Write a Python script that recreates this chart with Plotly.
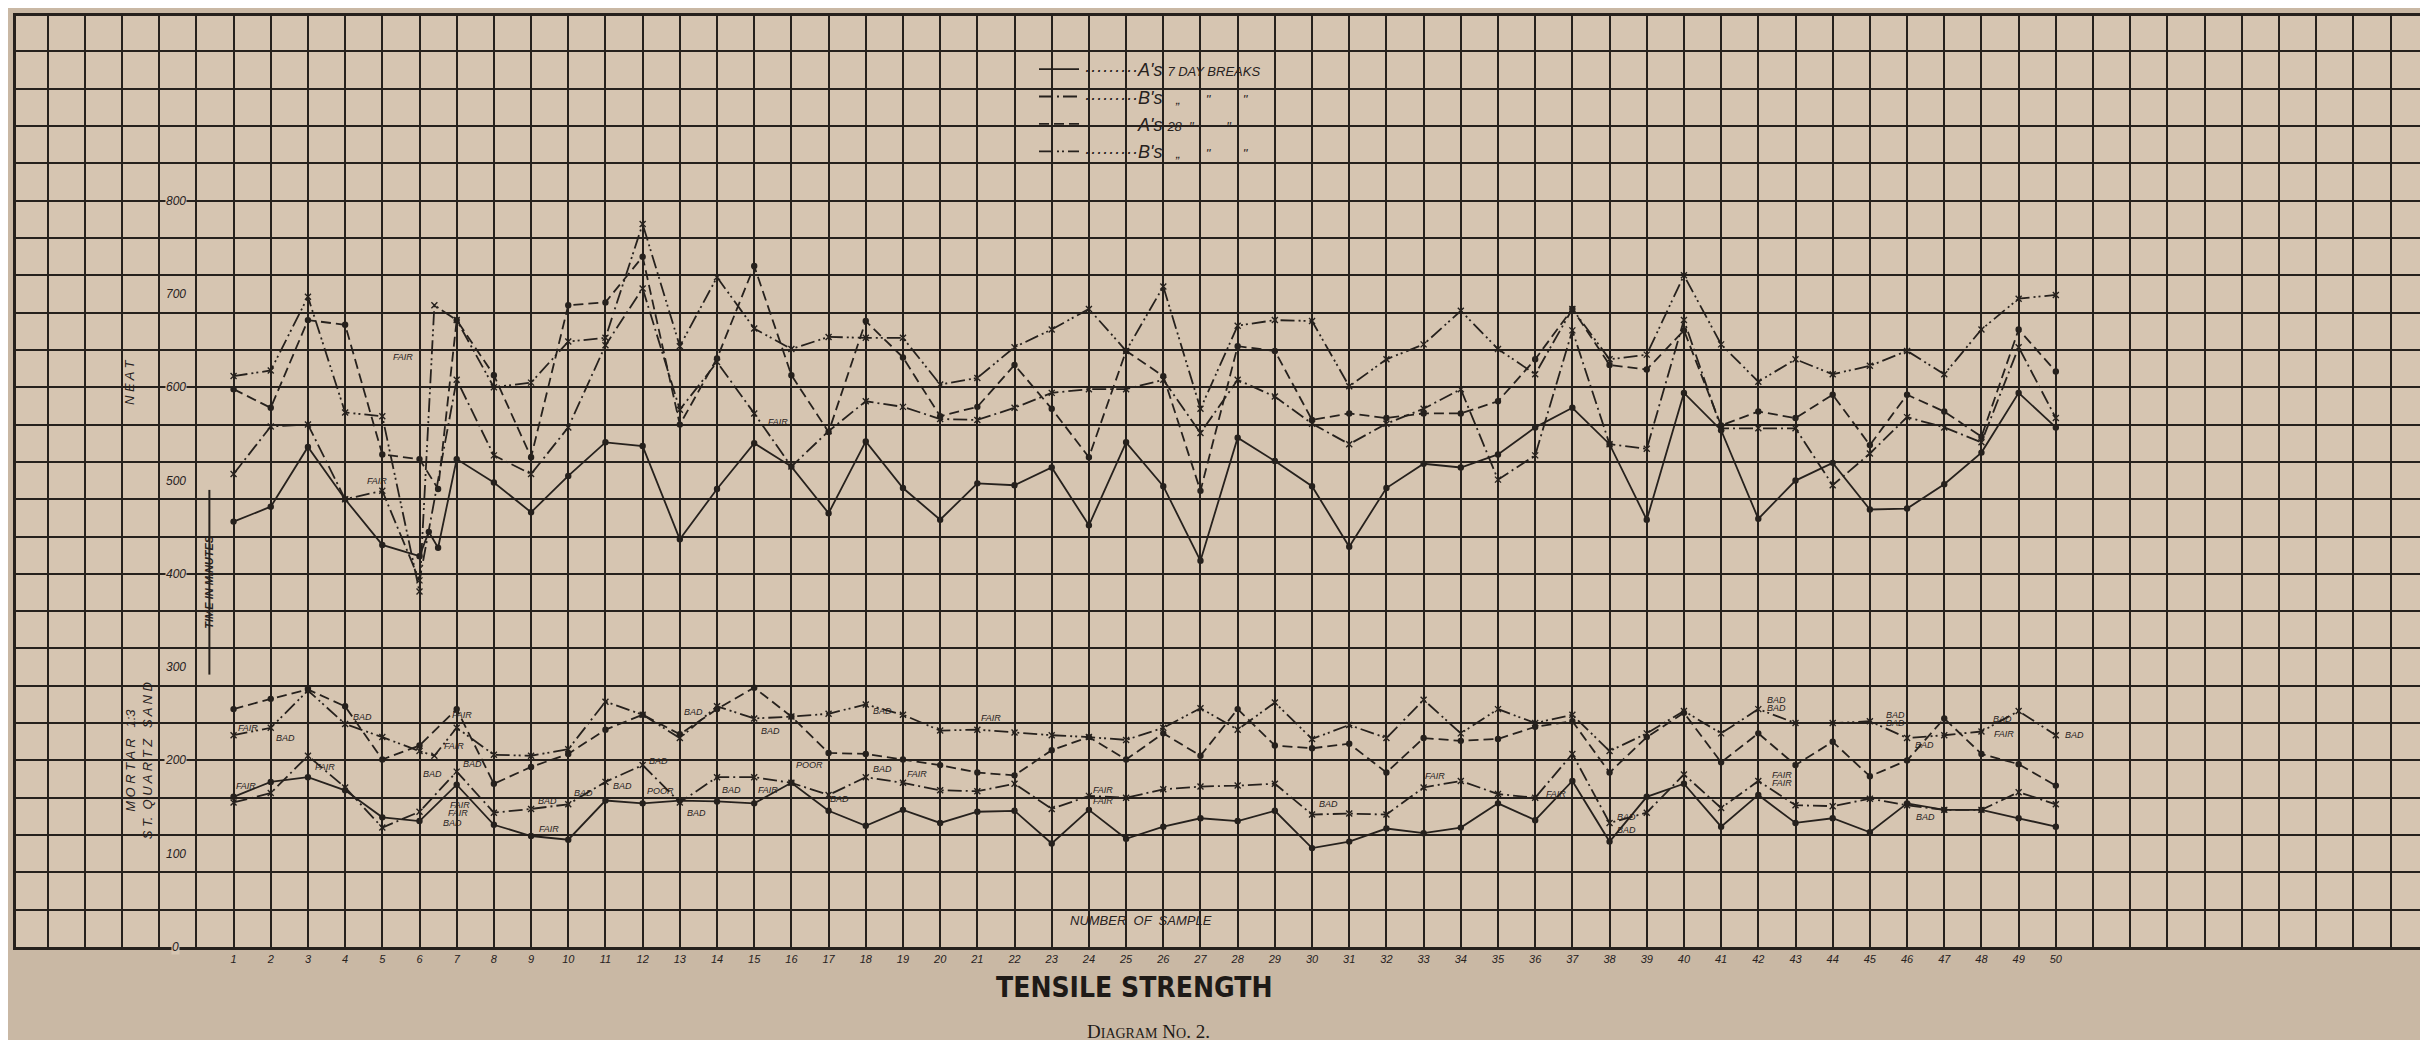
import plotly.graph_objects as go

# ---------------- data ----------------
samples = list(range(1, 51))

# NEAT cement, tensile strength (lbs)
neat_a7 = [456, 472, 536, 480, 431, 419, 523, 498, 466, 505, 541, 537, 437, 491, 540, 515, 465, 542, 492, 458,
           497, 495, 514, 452, 541, 494, 414, 546, 521, 494, 429, 492, 518, 514, 528, 557, 578, 539, 458, 594,
           554, 459, 500, 519, 469, 470, 496, 530, 594, 557]
neat_b7 = [507, 558, 560, 480, 489, 393, 608, 527, 507, 557, 645, 706, 576, 627, 572, 515, 553, 585, 579, 566,
           565, 578, 594, 598, 598, 608, 551, 608, 590, 561, 539, 561, 577, 598, 501, 527, 661, 539, 534, 672,
           556, 556, 556, 495, 529, 568, 557, 541, 643, 567]
neat_a28 = [598, 578, 672, 667, 528, 523, 672, 613, 525, 688, 691, 740, 560, 631, 730, 613, 552, 671, 632, 569,
            579, 624, 577, 525, 639, 612, 489, 644, 639, 565, 572, 567, 572, 572, 585, 630, 684, 624, 619, 661,
            559, 574, 567, 592, 538, 592, 574, 547, 662, 617]
neat_b28 = [612, 618, 697, 573, 569, 381, 672, 600, 605, 649, 653, 775, 644, 718, 663, 641, 654, 653, 653, 603,
            610, 643, 662, 684, 639, 708, 577, 666, 672, 671, 601, 630, 646, 682, 641, 614, 684, 630, 635, 720,
            646, 606, 630, 614, 623, 639, 614, 662, 695, 699]
# extra breaks plotted between samples 6 and 7
neat_a7_extra_x, neat_a7_extra_y = [6.25, 6.5], [445, 428]
neat_a28_extra_x, neat_a28_extra_y = [6.5], [491]
neat_b28_extra_x, neat_b28_extra_y = [6.4], [688]

# MORTAR 1:3 St. Quartz sand
mortar_a7 = [161, 177, 182, 168, 139, 135, 174, 131, 119, 115, 157, 154, 157, 156, 154, 176, 146, 130, 147, 133,
             145, 146, 111, 147, 116, 129, 138, 135, 146, 106, 113, 127, 122, 128, 154, 136, 178, 113, 161, 175,
             129, 163, 133, 138, 123, 154, 147, 147, 138, 129]
mortar_b7 = [155, 165, 205, 171, 128, 145, 188, 144, 148, 153, 177, 195, 155, 182, 182, 176, 163, 182, 176, 168,
             167, 175, 148, 162, 160, 169, 172, 173, 175, 142, 143, 142, 171, 178, 164, 160, 207, 133, 144, 185,
             149, 178, 152, 151, 159, 152, 147, 147, 166, 153]
mortar_a28 = [255, 266, 276, 258, 201, 216, 255, 175, 193, 207, 233, 249, 228, 255, 278, 247, 208, 207, 201, 195,
              187, 184, 211, 225, 201, 229, 205, 255, 216, 213, 218, 187, 224, 221, 223, 236, 242, 187, 225, 251,
              198, 229, 195, 220, 183, 200, 245, 207, 196, 173]
mortar_b28 = [227, 235, 275, 239, 225, 210, 235, 206, 205, 212, 263, 249, 224, 258, 245, 247, 250, 260, 249, 232,
              233, 230, 227, 225, 222, 235, 256, 233, 262, 223, 238, 224, 265, 229, 255, 240, 249, 210, 229, 253,
              229, 255, 240, 240, 242, 224, 227, 231, 253, 227]
mortar_b28_extra_x, mortar_b28_extra_y = [6.4], [205]

# quality notes written beside points
note_x = [5.55, 4.85, 15.65,
          1.38, 2.39, 4.46, 3.47, 1.33, 7.15, 6.93, 6.36, 7.42, 7.09, 7.04, 6.9, 9.45, 9.47, 10.42, 11.45,
          12.42, 12.47, 13.46, 13.37, 15.43, 14.4, 15.36, 16.48, 17.3,
          18.44, 21.38, 18.44, 19.37, 24.37, 24.37, 30.45, 33.3,
          42.5, 42.5, 45.7, 45.7, 46.46, 48.56, 48.6, 50.5, 36.56, 42.65, 42.65, 38.46, 38.46, 46.5]
note_y = [632, 500, 563,
          235, 224, 247, 193, 173, 249, 216, 185, 196, 152, 144, 133, 156, 126, 165, 173,
          199, 167, 144, 252, 232, 168, 168, 195, 159,
          253, 245, 191, 185, 168, 156, 153, 183,
          265, 256, 249, 240, 217, 244, 228, 227, 164, 184, 176, 139, 125, 139]
note_text = ["FAIR", "FAIR", "FAIR",
             "FAIR", "BAD", "BAD", "FAIR", "FAIR", "FAIR", "FAIR", "BAD", "BAD", "FAIR", "FAIR", "BAD", "BAD",
             "FAIR", "BAD", "BAD", "BAD", "POOR", "BAD", "BAD", "BAD", "BAD", "FAIR", "POOR", "BAD",
             "BAD", "FAIR", "BAD", "FAIR", "FAIR", "FAIR", "BAD", "FAIR",
             "BAD", "BAD", "BAD", "BAD", "BAD", "BAD", "FAIR", "BAD", "FAIR", "FAIR", "FAIR", "BAD", "BAD", "BAD"]

y_label_vals = [0, 100, 200, 300, 400, 500, 600, 700, 800]
SM = "<span style='font-size:13px'>"
LEAD = "·········"
series_names = [LEAD + "A's " + SM + "7 DAY BREAKS</span>",
                LEAD + "B's  " + SM + " „       \"         \"</span>",
                LEAD + "A's " + SM + "28  \"         \"</span>",
                LEAD + "B's  " + SM + " „       \"         \"</span> "]

# ---------------- style ----------------
INK = "#26211d"
PLOT_BG = "#d6c5b1"
PAPER_BG = "#c9b8a4"
dashes = ["solid", "14px,4px,2px,4px", "10px,5px", "14px,4px,2px,3px,2px,4px"]
mk_sym = ["circle", "x-thin", "circle", "x-thin"]

# plot-area geometry (pixels) used for paper-referenced placements
L, R, T, B = 8, 12, 5, 101
W, H = 2428, 1040
PW, PH = W - L - R, H - T - B


def px_to_paper(px, py):
    return (px - L) / PW, (H - B - py) / PH


def merged(xs, ys, ex_x, ex_y):
    pts = sorted(list(zip(xs, ys)) + list(zip(ex_x, ex_y)))
    return [p[0] for p in pts], [p[1] for p in pts]


neat = [merged(samples, neat_a7, neat_a7_extra_x, neat_a7_extra_y),
        merged(samples, neat_b7, [], []),
        merged(samples, neat_a28, neat_a28_extra_x, neat_a28_extra_y),
        merged(samples, neat_b28, neat_b28_extra_x, neat_b28_extra_y)]
mortar = [merged(samples, mortar_a7, [], []),
          merged(samples, mortar_b7, [], []),
          merged(samples, mortar_a28, [], []),
          merged(samples, mortar_b28, mortar_b28_extra_x, mortar_b28_extra_y)]

fig = go.Figure()
for i in range(4):
    for grp, (xs, ys) in ((0, neat[i]), (1, mortar[i])):
        fig.add_trace(go.Scatter(
            x=xs, y=ys, mode="lines", name=series_names[i], legendgroup=f"g{i}",
            showlegend=(grp == 0),
            line=dict(color=INK, width=1.8, dash=dashes[i]), hoverinfo="skip"))
        fig.add_trace(go.Scatter(
            x=xs, y=ys, mode="markers", showlegend=False, legendgroup=f"g{i}",
            marker=dict(symbol=mk_sym[i], size=5 if mk_sym[i] == "circle" else 6, color=INK,
                        line=dict(color=INK, width=1.4)), hoverinfo="skip"))

annotations = []
for x, y, t in zip(note_x, note_y, note_text):
    annotations.append(dict(x=x, y=y, xref="x", yref="y", text=t, showarrow=False,
                            font=dict(family="Liberation Sans", size=9, color=INK, style="italic")))
for v in y_label_vals:
    annotations.append(dict(x=-0.55, y=v, xref="x", yref="y", text=str(v), showarrow=False,
                            bgcolor=PLOT_BG, borderpad=0,
                            font=dict(family="Liberation Sans", size=12, color=INK, style="italic")))
annotations.append(dict(x=-1.8, y=606, xref="x", yref="y", text="N E A T", textangle=-90, showarrow=False,
                        font=dict(family="Liberation Sans", size=13, color=INK, style="italic")))
annotations.append(dict(x=-1.52, y=200, xref="x", yref="y",
                        text="M O R T A R   1:3<br>S T.  Q U A R T Z   S A N D", textangle=-90, showarrow=False,
                        font=dict(family="Liberation Sans", size=13, color=INK, style="italic")))
annotations.append(dict(x=0.35, y=392, xref="x", yref="y", text="<b>TIME IN MINUTES</b>", textangle=-90,
                        showarrow=False, font=dict(family="Liberation Sans", size=11, color=INK, style="italic")))
annotations.append(dict(x=25.4, y=28, xref="x", yref="y", text="NUMBER  OF  SAMPLE", showarrow=False,
                        font=dict(family="Liberation Sans", size=13, color=INK, style="italic")))

tx, ty = px_to_paper(1126, 980)
annotations.append(dict(x=tx, y=ty, xref="paper", yref="paper", text="<b>TENSILE STRENGTH</b>",
                        showarrow=False, yanchor="middle",
                        font=dict(family="DejaVu Sans Condensed, Liberation Sans Narrow, Liberation Sans, sans-serif",
                                  size=28, color="#1e1a17")))
dx, dy = px_to_paper(1140, 1024)
annotations.append(dict(x=dx, y=dy, xref="paper", yref="paper",
                        text="D<span style='font-size:14px'>IAGRAM</span> N<span style='font-size:14px'>O</span>. 2.",
                        showarrow=False, yanchor="middle",
                        font=dict(family="Liberation Serif", size=19, color="#1e1a17")))

shapes = [dict(type="line", xref="x", yref="y", x0=0.35, x1=0.35, y0=292, y1=490,
               line=dict(color=INK, width=2))]

lx, ly = px_to_paper(1026, 40)
fig.update_layout(
    width=W, height=H, autosize=False,
    margin=dict(l=L, r=R, t=T, b=B),
    paper_bgcolor=PAPER_BG, plot_bgcolor=PLOT_BG,
    annotations=annotations, shapes=shapes,
    legend=dict(x=lx, y=ly, xanchor="left", yanchor="top", bgcolor="rgba(0,0,0,0)",
                tracegroupgap=1, itemwidth=40,
                font=dict(family="Liberation Sans", size=18, color=INK, style="italic")),
    xaxis=dict(range=[-4.85, 59.9], tickvals=samples, ticktext=[str(s) for s in samples],
               tickfont=dict(family="Liberation Sans", size=11, color=INK, style="italic"),
               ticks="", showgrid=True, gridcolor=INK, gridwidth=1.7,
               minor=dict(dtick=1, tick0=0, showgrid=True, gridcolor=INK, gridwidth=1.7),
               zeroline=True, zerolinecolor=INK, zerolinewidth=2.2,
               showline=True, mirror=True, linecolor=INK, linewidth=2.5, fixedrange=True),
    yaxis=dict(range=[0, 998], dtick=40, tick0=0, showticklabels=False, ticks="",
               showgrid=True, gridcolor=INK, gridwidth=1.7, zeroline=False,
               showline=True, mirror=True, linecolor=INK, linewidth=2.5, fixedrange=True),
)

fig.write_html("out.html")
